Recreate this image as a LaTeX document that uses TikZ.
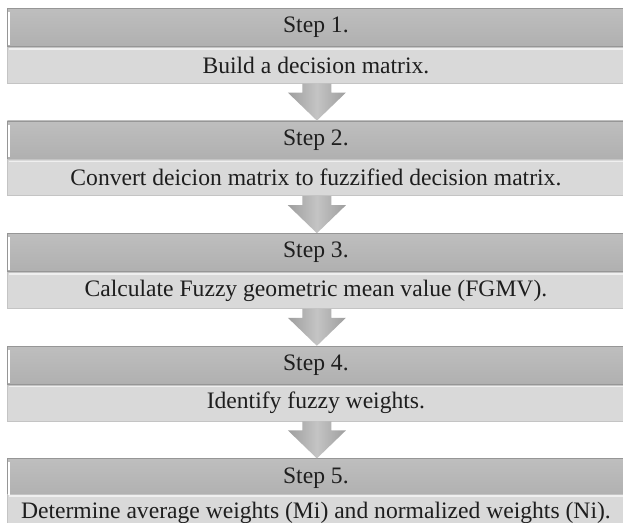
\documentclass[tikz,border=0pt]{standalone}
\usepackage{fontspec}
\setmainfont{Liberation Serif}
\usetikzlibrary{positioning,calc}

\definecolor{headtop}{RGB}{190,190,190}
\definecolor{headbot}{RGB}{176,176,176}
\definecolor{headline}{RGB}{150,150,150}
\definecolor{descfill}{RGB}{217,217,217}
\definecolor{descline}{RGB}{196,196,196}
\definecolor{arrowdark}{RGB}{158,158,158}
\definecolor{arrowlight}{RGB}{196,196,196}
\definecolor{textgray}{RGB}{30,30,30}

\tikzset{
  stephead/.style={draw=headline, top color=headtop, bottom color=headbot,
    minimum width=308.5pt, minimum height=19pt, inner sep=0pt,
    text=textgray, font=\fontsize{11.8}{13}\selectfont},
  stepdesc/.style={draw=descline, fill=descfill,
    minimum width=308.5pt, minimum height=18pt, inner sep=0pt,
    text=textgray, font=\fontsize{11.8}{13}\selectfont},
  downarrow/.style={left color=arrowdark, right color=arrowdark, middle color=arrowlight}
}

\begin{document}
\begin{tikzpicture}
    \clip (0,0) rectangle (311.5pt,-261.5pt);
    \fill[white] (0,0) rectangle (311.5pt,-261.5pt);

    \node[stephead, anchor=north west] (step1) at (3.5pt,-4pt) {Step 1.};
    \node[stepdesc, below=0pt of step1] (desc1) {Build a decision matrix.};
    \node[stephead, below=18.5pt of desc1] (step2) {Step 2.};
    \node[stepdesc, below=0pt of step2] (desc2) {Convert deicion matrix to fuzzified decision matrix.};
    \node[stephead, below=18.5pt of desc2] (step3) {Step 3.};
    \node[stepdesc, below=0pt of step3] (desc3) {Calculate Fuzzy geometric mean value (FGMV).};
    \node[stephead, below=18.5pt of desc3] (step4) {Step 4.};
    \node[stepdesc, below=0pt of step4] (desc4) {Identify fuzzy weights.};
    \node[stephead, below=18.5pt of desc4] (step5) {Step 5.};
    \node[stepdesc, below=0pt of step5, yshift=1.5pt] (desc5) {Determine average weights (Mi) and normalized weights (Ni).};

    % bevel highlights
    \foreach \i in {1,...,5} {
        \draw[white, line width=1.2pt] ($(step\i.north west)+(1pt,-2pt)$) -- ($(step\i.south west)+(1pt,1pt)$);
        \draw[white, opacity=.6, line width=.8pt] ($(desc\i.north west)+(1pt,-1pt)$) -- ($(desc\i.north east)+(-1pt,-1pt)$);
    }

    % arrows between the steps
    \foreach \i/\j in {1/2,2/3,3/4,4/5}
        \path[downarrow] ($(desc\i.south)+(-6.75pt,0)$) -- ++(0,-4.5pt) -- ++(-7.25pt,0)
            -- ($(step\j.north)+(0.5pt,0)$) -- ($(desc\i.south)+(15pt,-4.5pt)$) -- ++(-7.25pt,0)
            -- ($(desc\i.south)+(7.75pt,0)$) -- cycle;
\end{tikzpicture}
\end{document}
